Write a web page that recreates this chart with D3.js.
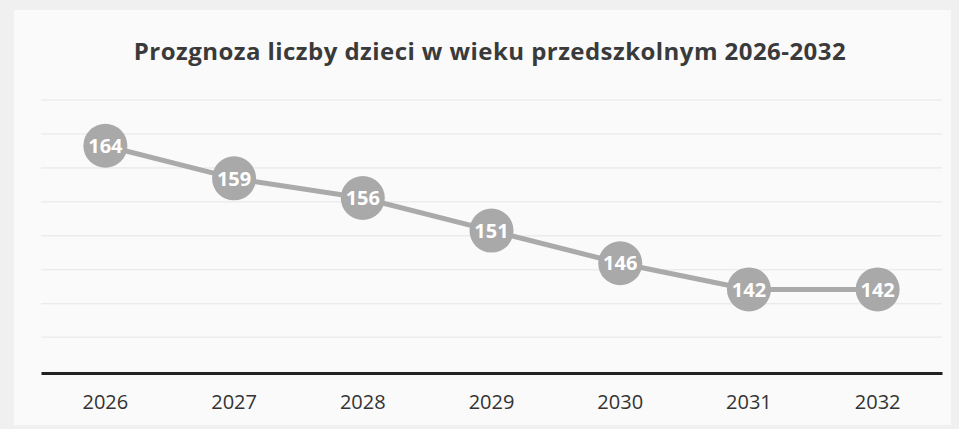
<!DOCTYPE html>
<meta charset='utf-8'>
<style>
	body { margin: 0; background: #f0f0f0; }
	text { font-family: 'Open Sans', 'DejaVu Sans', sans-serif; }
</style>
<body>
	<div id='container'></div>
<script src='https://d3js.org/d3.v7.min.js'></script>
<script>
	const years = ['2026', '2027', '2028', '2029', '2030', '2031', '2032'];
	const children = [164, 159, 156, 151, 146, 142, 142];
	// faint scanned gridlines
	const gridValues = [134.7, 139.8, 145, 150.2, 155.4, 160.6, 165.8, 171];
	const title = 'Prozgnoza liczby dzieci w wieku przedszkolnym 2026-2032';

	const W = 959, H = 429;
	const margin = { top: 100, left: 41, right: 17, bottom: 56 },
		width = W - margin.left - margin.right,
		height = H - margin.top - margin.bottom;

	const x = d3.scaleBand()
		.domain( years )
		.range( [0, width] );
	const y = d3.scaleLinear()
		.domain( [129.2, 171] )
		.range( [height, 0] );

	const root = d3.select( '#container' )
		.append( 'svg' )
		.attr( 'width', W )
		.attr( 'height', H );

	// paper
	root.append( 'rect' )
		.attr( 'x', 14 ).attr( 'y', 10 )
		.attr( 'width', W - 22 ).attr( 'height', H - 14 )
		.attr( 'fill', '#fafafa' );

	root.append( 'text' )
		.attr( 'x', 490 )
		.attr( 'y', 60 )
		.attr( 'text-anchor', 'middle' )
		.attr( 'font-size', 24 )
		.attr( 'font-weight', 'bold' )
		.attr( 'letter-spacing', 0.45 )
		.attr( 'fill', '#3a3a3a' )
		.text( title );

	const svg = root.append( 'g' )
		.attr( 'transform', `translate( ${margin.left}, ${margin.top} )` );

	svg.append( 'g' )
		.selectAll( 'line' )
		.data( gridValues )
		.join( 'line' )
			.attr( 'x1', 0 ).attr( 'x2', width )
			.attr( 'y1', d => y( d ) ).attr( 'y2', d => y( d ) )
			.attr( 'stroke', '#e6e6e6' )
			.attr( 'stroke-width', 1 );

	const xAxis = d3.axisBottom( x ).tickSize( 0 ).tickPadding( 22 );
	const xAxisEl = svg.append( 'g' )
		.attr( 'transform', `translate( 0, ${height} )` )
		.call( xAxis );
	xAxisEl.select( '.domain' )
		.attr( 'stroke', '#222' )
		.attr( 'stroke-width', 3 );
	xAxisEl.selectAll( 'text' )
		.attr( 'font-size', 20 )
		.attr( 'fill', '#333' )
		.style( 'font-family', "'Open Sans', sans-serif" );

	const cx = ( d, i ) => x( years[i] ) + x.bandwidth() / 2;

	const line = d3.line()
		.x( ( d, i ) => cx( d, i ) )
		.y( d => y( d ) );

	svg.append( 'path' )
		.datum( children )
		.attr( 'd', line )
		.attr( 'fill', 'none' )
		.attr( 'stroke', '#aaaaaa' )
		.attr( 'stroke-width', 5 );

	const pts = svg.append( 'g' )
		.selectAll( 'g' )
		.data( children )
		.join( 'g' )
			.attr( 'transform', ( d, i ) => `translate( ${cx( d, i )}, ${y( d )} )` );

	pts.append( 'circle' )
		.attr( 'r', 22 )
		.attr( 'fill', '#a9a9a9' );

	pts.append( 'text' )
		.attr( 'text-anchor', 'middle' )
		.attr( 'dy', '0.36em' )
		.attr( 'font-size', 20 )
		.attr( 'font-weight', 'bold' )
		.attr( 'fill', '#fff' )
		.text( d => d );
</script>
</body>
